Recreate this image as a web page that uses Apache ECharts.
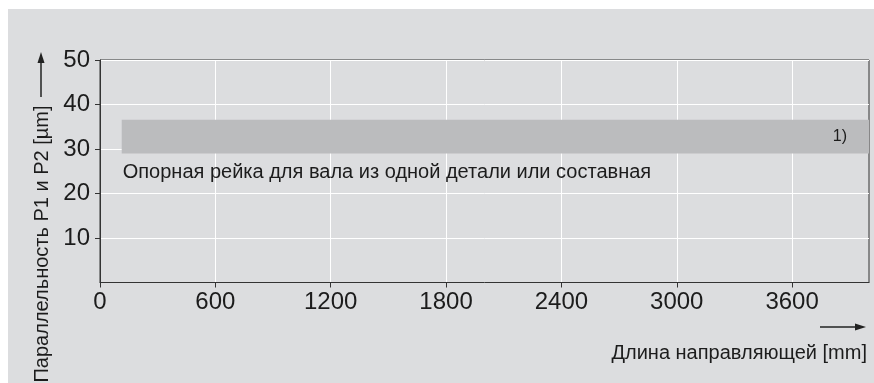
<!DOCTYPE html>
<html>
<head>
<meta charset="utf-8">
<script src="https://cdn.jsdelivr.net/npm/echarts@6/dist/echarts.min.js"></script>
<style>html,body{margin:0;padding:0;background:#fff}#c{width:874px;height:383px}</style>
</head>
<body>
<div id="c"></div>
<script>
// Data
const xTicks = [0, 600, 1200, 1800, 2400, 3000, 3600];
const yTicks = [10, 20, 30, 40, 50];
const bandX = [113, 4000];      // band length range [mm]
const bandY = [29, 36.6];       // band parallelism range [µm]
const bandNote = '1)';
const bandLabel = 'Опорная рейка для вала из одной детали или составная';
const xTitle = 'Длина направляющей [mm]';
const yTitle = 'Параллельность P1 и P2 [µm]';

const FONT = '"Liberation Sans", Arial, Helvetica, sans-serif';
const TXT = '#1c1c1c';
const chart = echarts.init(document.getElementById('c'), null, {renderer: 'canvas'});

chart.setOption({
  backgroundColor: '#dcdddf',
  animation: false,
  textStyle: {fontFamily: FONT},
  grid: {left: 100, right: 5, top: 60, bottom: 100.5, show: true, borderColor: '#333', borderWidth: 1, backgroundColor: 'transparent'},
  xAxis: {
    type: 'value', min: 0, max: 4000, interval: 600,
    axisLine: {show: true, lineStyle: {color: '#333', width: 1}},
    axisTick: {show: true, length: 5, lineStyle: {color: '#333'}, customValues: xTicks},
    axisLabel: {color: TXT, fontSize: 24, margin: 8, fontFamily: FONT, customValues: xTicks,
      formatter: v => String(v)},
    splitLine: {show: true, lineStyle: {color: '#ffffff', width: 1}}
  },
  yAxis: {
    type: 'value', min: 0, max: 50, interval: 10,
    axisLine: {show: true, lineStyle: {color: '#333', width: 1}},
    axisTick: {show: true, length: 5, lineStyle: {color: '#333'}},
    axisLabel: {color: TXT, fontSize: 24, margin: 10, fontFamily: FONT, showMinLabel: false,
      formatter: v => yTicks.indexOf(v) >= 0 ? String(v) : ''},
    splitLine: {show: true, lineStyle: {color: '#ffffff', width: 1}}
  },
  series: [{
    type: 'custom',
    data: [[bandX[0], bandX[1], bandY[0], bandY[1]]],
    renderItem: function (params, api) {
      const p1 = api.coord([api.value(0), api.value(3)]);
      const p2 = api.coord([api.value(1), api.value(2)]);
      return {
        type: 'group',
        children: [{
          type: 'rect',
          shape: {x: p1[0], y: p1[1], width: p2[0] - p1[0], height: p2[1] - p1[1]},
          style: {fill: '#bbbcbe'},
          textContent: {style: {text: bandNote, fill: TXT, fontSize: 16, fontFamily: FONT}},
          textConfig: {position: 'insideRight', distance: 22}
        }, {
          type: 'text',
          x: p1[0] + 1, y: p2[1] + 19,
          style: {text: bandLabel, fill: TXT, fontSize: 20, fontFamily: FONT, textAlign: 'left', textVerticalAlign: 'middle'}
        }]
      };
    }
  }],
  graphic: [
    {type: 'rect', shape: {x: 0, y: 0, width: 874, height: 9}, style: {fill: '#fff'}, silent: true},
    {type: 'rect', shape: {x: 0, y: 0, width: 8, height: 383}, style: {fill: '#fff'}, silent: true},
    {type: 'text', x: 42, y: 244, rotation: Math.PI / 2,
      style: {text: yTitle, fill: TXT, fontSize: 20, fontFamily: FONT, textAlign: 'center', textVerticalAlign: 'middle'}},
    {type: 'line', shape: {x1: 41, y1: 97, x2: 41, y2: 60}, style: {stroke: '#222', lineWidth: 1.5}},
    {type: 'polygon', shape: {points: [[41, 52], [37.5, 63], [44.5, 63]]}, style: {fill: '#222'}},
    {type: 'text', x: 867, y: 353,
      style: {text: xTitle, fill: TXT, fontSize: 20, fontFamily: FONT, textAlign: 'right', textVerticalAlign: 'middle'}},
    {type: 'line', shape: {x1: 820, y1: 327, x2: 856, y2: 327}, style: {stroke: '#222', lineWidth: 1.5}},
    {type: 'polygon', shape: {points: [[866, 327], [855, 323.5], [855, 330.5]]}, style: {fill: '#222'}}
  ]
});
</script>
</body>
</html>
